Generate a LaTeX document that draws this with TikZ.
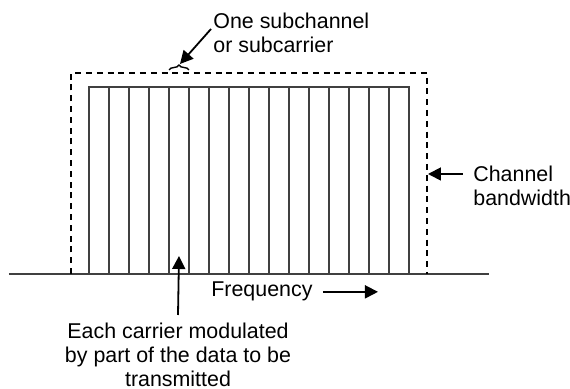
\documentclass[tikz,border=0pt]{standalone}
\usepackage{fontspec}
\setmainfont{Liberation Sans}
\usetikzlibrary{arrows.meta,decorations.pathreplacing}

\tikzset{
  carrier/.style={line width=1pt,draw=black!75},
  bandline/.style={line width=0.7pt,dash pattern=on 3pt off 2.4pt},
  pointer/.style={line width=0.9pt,-{Triangle[length=6.5pt,width=6.5pt]}},
  label/.style={inner sep=0pt,font=\fontsize{10.7}{11.8}\selectfont}
}

\begin{document}
\begin{tikzpicture}[x=0.5pt,y=-0.5pt]
  \useasboundingbox (0,0) rectangle (570,389);
  % frequency axis
  \draw[carrier] (9,274) -- (489,274);
  % channel bandwidth
  \draw[bandline] (71,274) -- (71,73) -- (427,73) -- (427,274);
  % subcarriers
  \draw[carrier] (89,274) -- (89,87) -- (409,87) -- (409,274);
  \foreach \x in {109,129,...,389}
    \draw[carrier] (\x,87) -- (\x,274);
  \draw[line width=0.7pt,decorate,decoration={brace,amplitude=2.5pt}] (169,70) -- (189,70);
  % labels
  \node[label,anchor=north west,align=left] (subtxt) at (213,13) {One subchannel\\or subcarrier};
  \node[label,anchor=north west,align=left] (bwtxt) at (473,166) {Channel\\bandwidth};
  \node[label,anchor=north,align=center] (cartxt) at (178,323) {Each carrier modulated\\by part of the data to be\\transmitted};
  \node[label,anchor=base west] (freqtxt) at (211,297) {Frequency};
  \coordinate (subtip) at (180,64);
  \coordinate (bwtip) at (428,174);
  \coordinate (cartip) at (179,256);
  \coordinate (freqtip) at (378,291);
  \draw[pointer] (211,29) -- (subtip);
  \draw[pointer] (bwtxt.west |- bwtip) ++(-10,0) -- (bwtip);
  \draw[pointer] (cartxt.north) ++(0,-8) -- (cartip);
  \draw[pointer] (freqtxt.east) ++(10,0) coordinate (freqtail) -- (freqtail -| freqtip);
\end{tikzpicture}
\end{document}
